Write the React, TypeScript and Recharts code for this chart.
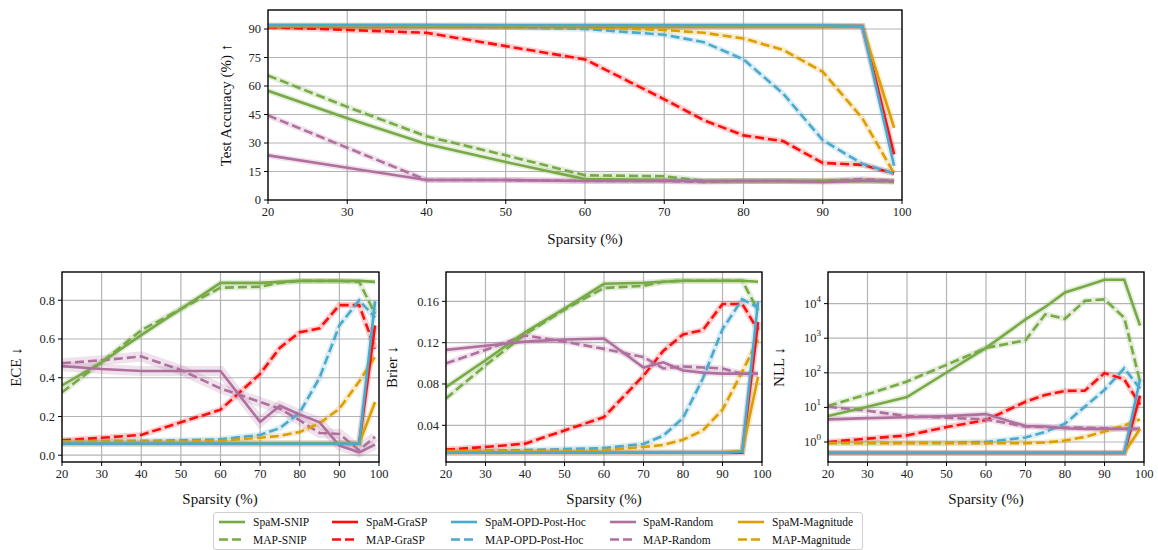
import * as React from "react";
import { LineChart, Line, XAxis, YAxis, CartesianGrid } from "recharts";

// sparsity levels (%)
const sparsity = [20, 30, 40, 50, 60, 70, 75, 80, 85, 90, 95, 99];
const xTicks = [20, 30, 40, 50, 60, 70, 80, 90, 100];

// test accuracy (%)
const accSpamSnip = [57.5, 43, 29.5, 20, 11, 10.5, 10, 10, 10, 10, 10, 10];
const accMapSnip = [65.5, 49, 33.5, 23.5, 13, 12.5, 10, 10, 10, 10, 10.5, 9.5];
const accSpamGrasp = [91.5, 91.5, 91.5, 91.5, 91.5, 91.5, 91.5, 91.5, 91.5, 91.5, 91.5, 24];
const accMapGrasp = [91, 89.5, 88, 81, 74, 53, 42, 34, 31, 19.5, 18.5, 14];
const accSpamOpd = [92, 92, 92, 92, 92, 92, 92, 92, 92, 92, 91.5, 18];
const accMapOpd = [91.5, 91.5, 91.5, 91, 90, 87, 83, 74, 56, 31.5, 19, 14];
const accSpamRandom = [23.5, 17, 10.5, 10.5, 10, 10, 10, 10, 10, 9.5, 10, 10];
const accMapRandom = [44.5, 27.5, 10.5, 10.5, 10, 10, 9.5, 10, 10, 10, 11, 10];
const accSpamMag = [91.5, 91.5, 91.5, 91.5, 91.5, 91.5, 91.5, 91.5, 91.5, 91.5, 91.5, 38];
const accMapMag = [91.5, 91.5, 91.5, 91, 91, 89.5, 88, 85, 79, 67.5, 43, 14];
const accTicks = [0, 15, 30, 45, 60, 75, 90];

// ECE
const eceSpamSnip = [0.36, 0.48, 0.62, 0.755, 0.89, 0.89, 0.895, 0.9, 0.9, 0.9, 0.9, 0.895];
const eceMapSnip = [0.325, 0.48, 0.645, 0.755, 0.865, 0.87, 0.89, 0.9, 0.9, 0.9, 0.895, 0.73];
const eceSpamGrasp = [0.06, 0.06, 0.06, 0.06, 0.06, 0.06, 0.06, 0.06, 0.06, 0.06, 0.06, 0.67];
const eceMapGrasp = [0.077, 0.09, 0.105, 0.17, 0.235, 0.42, 0.555, 0.635, 0.655, 0.775, 0.775, 0.55];
const eceSpamOpd = [0.06, 0.06, 0.06, 0.06, 0.06, 0.06, 0.06, 0.06, 0.06, 0.06, 0.06, 0.795];
const eceMapOpd = [0.072, 0.074, 0.074, 0.077, 0.082, 0.105, 0.14, 0.22, 0.4, 0.67, 0.8, 0.71];
const eceSpamRandom = [0.46, 0.445, 0.435, 0.435, 0.435, 0.172, 0.255, 0.21, 0.17, 0.05, 0.015, 0.055];
const eceMapRandom = [0.475, 0.49, 0.51, 0.44, 0.345, 0.275, 0.24, 0.18, 0.115, 0.11, 0.026, 0.095];
const eceSpamMag = [0.061, 0.061, 0.061, 0.061, 0.061, 0.061, 0.061, 0.061, 0.061, 0.061, 0.061, 0.275];
const eceMapMag = [0.07, 0.07, 0.07, 0.07, 0.075, 0.09, 0.1, 0.12, 0.165, 0.24, 0.38, 0.51];
const eceTicks = [0, 0.2, 0.4, 0.6, 0.8];

// Brier
const brSpamSnip = [0.077, 0.103, 0.13, 0.153, 0.177, 0.178, 0.179, 0.18, 0.18, 0.18, 0.18, 0.179];
const brMapSnip = [0.066, 0.098, 0.128, 0.152, 0.173, 0.175, 0.179, 0.18, 0.18, 0.18, 0.18, 0.151];
const brSpamGrasp = [0.0135, 0.0135, 0.0135, 0.0135, 0.0135, 0.0135, 0.0135, 0.0135, 0.0135, 0.0135, 0.0135, 0.14];
const brMapGrasp = [0.0165, 0.019, 0.0223, 0.035, 0.048, 0.088, 0.112, 0.128, 0.132, 0.1575, 0.1575, 0.132];
const brSpamOpd = [0.0135, 0.0135, 0.0135, 0.0135, 0.0135, 0.0135, 0.0135, 0.0135, 0.0135, 0.0135, 0.0145, 0.16];
const brMapOpd = [0.015, 0.0155, 0.016, 0.017, 0.018, 0.022, 0.03, 0.047, 0.085, 0.133, 0.162, 0.154];
const brSpamRandom = [0.113, 0.117, 0.121, 0.123, 0.124, 0.096, 0.101, 0.093, 0.091, 0.09, 0.09, 0.09];
const brMapRandom = [0.1, 0.113, 0.127, 0.121, 0.114, 0.106, 0.095, 0.097, 0.096, 0.095, 0.09, 0.09];
const brSpamMag = [0.0138, 0.0138, 0.0138, 0.0138, 0.0138, 0.0138, 0.0138, 0.0138, 0.0138, 0.0138, 0.015, 0.087];
const brMapMag = [0.015, 0.015, 0.015, 0.0155, 0.016, 0.019, 0.021, 0.026, 0.035, 0.055, 0.092, 0.123];
const brTicks = [0.04, 0.08, 0.12, 0.16];

// NLL (log scale)
const nllSpamSnip = [5.6, 10.5, 20, 102, 525, 3500, 8000, 21000, 32000, 49000, 49000, 2300];
const nllMapSnip = [11, 24, 56, 170, 525, 870, 4900, 3650, 12000, 13300, 3900, 55];
const nllSpamGrasp = [0.48, 0.48, 0.48, 0.48, 0.48, 0.48, 0.48, 0.48, 0.48, 0.48, 0.48, 22];
const nllMapGrasp = [1.0, 1.25, 1.55, 2.7, 4.3, 14.5, 23, 30, 30.5, 98, 65, 12];
const nllSpamOpd = [0.48, 0.48, 0.48, 0.48, 0.48, 0.48, 0.48, 0.48, 0.48, 0.48, 0.48, 65];
const nllMapOpd = [0.95, 0.95, 0.95, 0.95, 1.0, 1.35, 1.95, 3.4, 10.4, 32, 135, 35];
const nllSpamRandom = [4.5, 4.9, 5.2, 5.6, 6.4, 2.9, 2.8, 2.5, 2.4, 2.4, 2.4, 2.4];
const nllMapRandom = [10.4, 8, 5.6, 5.0, 4.5, 2.8, 2.7, 2.6, 2.6, 2.5, 2.4, 2.4];
const nllSpamMag = [0.49, 0.49, 0.49, 0.49, 0.49, 0.49, 0.49, 0.49, 0.49, 0.49, 0.49, 2.4];
const nllMapMag = [0.92, 0.92, 0.92, 0.92, 0.92, 0.93, 0.97, 1.1, 1.4, 2.0, 3.0, 4.5];
const nllTicks = [1, 10, 100, 1000, 10000];
const nllMinor = [0.3, 0.4, 0.5, 0.6, 0.7, 0.8, 0.9, 2, 3, 4, 5, 6, 7, 8, 9, 20, 30, 40, 50, 60, 70, 80, 90,
  200, 300, 400, 500, 600, 700, 800, 900, 2000, 3000, 4000, 5000, 6000, 7000, 8000, 9000,
  20000, 30000, 40000, 50000, 60000, 70000, 80000];

const GREEN = "#77aa47";
const RED = "#ff0d0d";
const BLUE = "#4aa9cc";
const PURPLE = "#b0709e";
const ORANGE = "#dc9e00";

const seriesKeys = [
  { key: "mapSnip", name: "MAP-SNIP", color: GREEN, dashed: true },
  { key: "mapGrasp", name: "MAP-GraSP", color: RED, dashed: true },
  { key: "mapOpd", name: "MAP-OPD-Post-Hoc", color: BLUE, dashed: true },
  { key: "mapRandom", name: "MAP-Random", color: PURPLE, dashed: true },
  { key: "mapMag", name: "MAP-Magnitude", color: ORANGE, dashed: true },
  { key: "spamSnip", name: "SpaM-SNIP", color: GREEN, dashed: false },
  { key: "spamGrasp", name: "SpaM-GraSP", color: RED, dashed: false },
  { key: "spamRandom", name: "SpaM-Random", color: PURPLE, dashed: false },
  { key: "spamMag", name: "SpaM-Magnitude", color: ORANGE, dashed: false },
  { key: "spamOpd", name: "SpaM-OPD-Post-Hoc", color: BLUE, dashed: false },
];

const legendCols = [
  { solid: "SpaM-SNIP", dash: "MAP-SNIP", color: GREEN, lx: 219, tx: 253 },
  { solid: "SpaM-GraSP", dash: "MAP-GraSP", color: RED, lx: 332, tx: 366 },
  { solid: "SpaM-OPD-Post-Hoc", dash: "MAP-OPD-Post-Hoc", color: BLUE, lx: 451, tx: 485 },
  { solid: "SpaM-Random", dash: "MAP-Random", color: PURPLE, lx: 610, tx: 643 },
  { solid: "SpaM-Magnitude", dash: "MAP-Magnitude", color: ORANGE, lx: 738, tx: 772 },
];

function buildRows(v: Record<string, number[]>) {
  return sparsity.map((x, i) => {
    const row: Record<string, number> = { x };
    Object.keys(v).forEach((k) => (row[k] = v[k][i]));
    return row;
  });
}

const accRows = buildRows({
  spamSnip: accSpamSnip, mapSnip: accMapSnip, spamGrasp: accSpamGrasp, mapGrasp: accMapGrasp,
  spamOpd: accSpamOpd, mapOpd: accMapOpd, spamRandom: accSpamRandom, mapRandom: accMapRandom,
  spamMag: accSpamMag, mapMag: accMapMag,
});
const eceRows = buildRows({
  spamSnip: eceSpamSnip, mapSnip: eceMapSnip, spamGrasp: eceSpamGrasp, mapGrasp: eceMapGrasp,
  spamOpd: eceSpamOpd, mapOpd: eceMapOpd, spamRandom: eceSpamRandom, mapRandom: eceMapRandom,
  spamMag: eceSpamMag, mapMag: eceMapMag,
});
const brRows = buildRows({
  spamSnip: brSpamSnip, mapSnip: brMapSnip, spamGrasp: brSpamGrasp, mapGrasp: brMapGrasp,
  spamOpd: brSpamOpd, mapOpd: brMapOpd, spamRandom: brSpamRandom, mapRandom: brMapRandom,
  spamMag: brSpamMag, mapMag: brMapMag,
});
const nllRows = buildRows({
  spamSnip: nllSpamSnip, mapSnip: nllMapSnip, spamGrasp: nllSpamGrasp, mapGrasp: nllMapGrasp,
  spamOpd: nllSpamOpd, mapOpd: nllMapOpd, spamRandom: nllSpamRandom, mapRandom: nllMapRandom,
  spamMag: nllSpamMag, mapMag: nllMapMag,
});

const FONT = "'Liberation Serif', 'DejaVu Serif', serif";
const tickStyle = { fill: "#222", fontSize: 12.5, fontFamily: FONT };

const PowTick = (props: any) => {
  const { x, y, payload } = props;
  const exp = Math.round(Math.log10(payload.value));
  return (
    <text x={x} y={y + 4} textAnchor="end" fill="#222" fontSize={12.5} fontFamily={FONT}>
      <tspan>10</tspan>
      <tspan dy={-6} fontSize={9}>{exp}</tspan>
    </text>
  );
};

// minor log ticks: line only, no label
const EmptyTick = () => <g />;

type PanelProps = {
  rows: Record<string, number>[];
  left: number; right: number; top: number; bottom: number;
  domain: [number, number]; ticks: number[];
  fmt?: (v: number) => string;
  log?: boolean;
  bandWide?: boolean;
};

function Panel({ rows, left, right, top, bottom, domain, ticks, fmt, log, bandWide }: PanelProps) {
  const w = right - left + 80;
  const h = bottom - top + 50;
  return (
    <div style={{ position: "absolute", left: left - 60, top: top - 10 }}>
      <LineChart width={w} height={h} data={rows} margin={{ top: 10, left: 10, right: 20, bottom: 10 }}>
        <CartesianGrid stroke="#b4b4b4" strokeWidth={1.2} />
        <XAxis dataKey="x" type="number" domain={[20, 100]} ticks={xTicks} height={30}
          tick={tickStyle} tickSize={4} tickMargin={3} axisLine={false}
          tickLine={{ stroke: "#000" }} allowDataOverflow />
        {log && (
          <YAxis yAxisId="minor" width={0} scale="log" domain={domain} ticks={nllMinor}
            tick={<EmptyTick />} tickSize={2.5} axisLine={false} tickLine={{ stroke: "#000" }}
            interval={0} allowDataOverflow />
        )}
        <YAxis width={50} type="number" scale={log ? "log" : "auto"} domain={domain} ticks={ticks}
          tick={log ? <PowTick /> : tickStyle} tickFormatter={fmt} tickSize={4} tickMargin={3}
          axisLine={false} tickLine={{ stroke: "#000" }} interval={0} allowDataOverflow />
        {seriesKeys.map((s) => (
          <Line key={"band-" + s.key} dataKey={s.key} type="linear" dot={false} stroke={s.color}
            strokeOpacity={0.2} strokeWidth={bandWide && s.color === PURPLE ? 10 : 6}
            isAnimationActive={false} legendType="none" />
        ))}
        {seriesKeys.map((s) => (
          <Line key={s.key} dataKey={s.key} name={s.name} type="linear" dot={false} stroke={s.color}
            strokeWidth={2.6} strokeDasharray={s.dashed ? "9 4" : undefined}
            isAnimationActive={false} />
        ))}
      </LineChart>
    </div>
  );
}

const boxes = [
  { l: 268, r: 902, t: 10, b: 200 },
  { l: 62, r: 379, t: 272, b: 462 },
  { l: 446, r: 762, t: 272, b: 462 },
  { l: 828, r: 1144, t: 272, b: 462 },
];

const labelStyle: React.CSSProperties = {
  position: "absolute", fontFamily: FONT, fontSize: 15, color: "#111", whiteSpace: "nowrap",
};

function YLabel({ x, y, text }: { x: number; y: number; text: string }) {
  return (
    <div style={{ ...labelStyle, left: x, top: y, transform: "translate(-50%, -50%) rotate(-90deg)" }}>
      {text}
    </div>
  );
}

function XLabel({ x, y }: { x: number; y: number }) {
  return (
    <div style={{ ...labelStyle, left: x, top: y, transform: "translate(-50%, -50%)" }}>Sparsity (%)</div>
  );
}

export default function App() {
  return (
    <div style={{ position: "absolute", left: 0, top: 0, width: 1158, height: 550, background: "#fff", overflow: "hidden" }}>
      <Panel rows={accRows} left={268} right={902} top={10} bottom={200} domain={[0, 100]} ticks={accTicks} />
      <Panel rows={eceRows} left={62} right={379} top={272} bottom={462} domain={[-0.035, 0.946]}
        ticks={eceTicks} fmt={(v) => v.toFixed(1)} bandWide />
      <Panel rows={brRows} left={446} right={762} top={272} bottom={462} domain={[0.0045, 0.1884]}
        ticks={brTicks} fmt={(v) => v.toFixed(2)} />
      <Panel rows={nllRows} left={828} right={1144} top={272} bottom={462} domain={[0.264, 82000]}
        ticks={nllTicks} log />

      <svg width={1158} height={550} style={{ position: "absolute", left: 0, top: 0, pointerEvents: "none" }}>
        {boxes.map((b, i) => (
          <rect key={i} x={b.l} y={b.t} width={b.r - b.l} height={b.b - b.t} fill="none" stroke="#000" strokeWidth={1.3} />
        ))}
      </svg>

      <YLabel x={226} y={105} text="Test Accuracy (%) ↑" />
      <YLabel x={16} y={367} text="ECE ↓" />
      <YLabel x={392} y={367} text="Brier ↓" />
      <YLabel x={779} y={367} text="NLL ↓" />
      <XLabel x={585} y={239} />
      <XLabel x={220} y={499} />
      <XLabel x={604} y={499} />
      <XLabel x={986} y={499} />

      <div style={{ position: "absolute", left: 213, top: 512, width: 648, height: 36, border: "1px solid #cfcfcf", borderRadius: 3, background: "#fff" }} />
      <svg width={1158} height={550} style={{ position: "absolute", left: 0, top: 0, pointerEvents: "none" }}>
        {legendCols.map((c) => (
          <g key={c.solid}>
            <line x1={c.lx} x2={c.lx + 26} y1={522} y2={522} stroke={c.color} strokeWidth={2.6} />
            <line x1={c.lx} x2={c.lx + 26} y1={539.5} y2={539.5} stroke={c.color} strokeWidth={2.6} strokeDasharray="9 4" />
            <text x={c.tx} y={526} fontSize={11.5} fontFamily={FONT} fill="#111">{c.solid}</text>
            <text x={c.tx} y={543.5} fontSize={11.5} fontFamily={FONT} fill="#111">{c.dash}</text>
          </g>
        ))}
      </svg>
    </div>
  );
}
